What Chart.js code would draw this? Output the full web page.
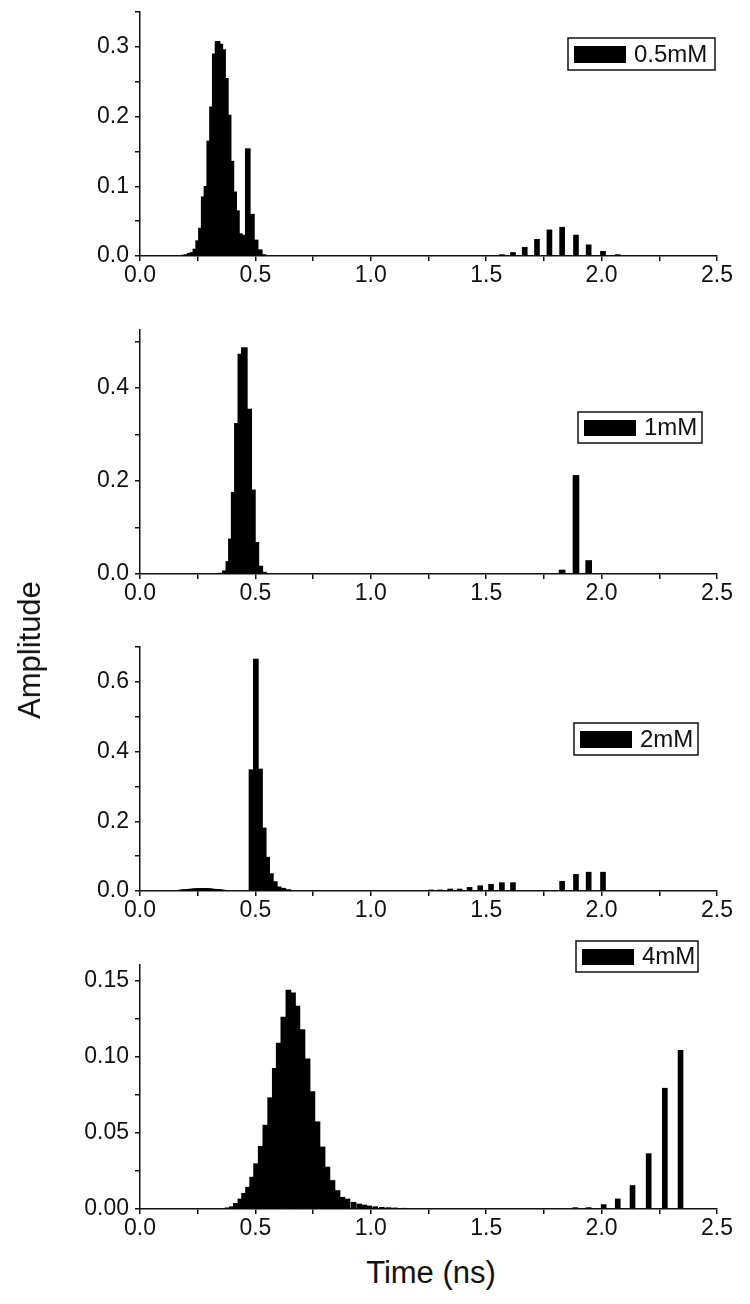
<!DOCTYPE html>
<html>
<head>
<meta charset="utf-8">
<script src="https://cdn.jsdelivr.net/npm/chart.js@4"></script>
<style>
  body { margin: 0; background: #fff; }
  #page { position: relative; width: 750px; height: 1304px; background: #fff; font-family: "Liberation Sans", Arial, sans-serif; color: #111; overflow: hidden; }
  canvas { position: absolute; left: 0; }
  .title { position: absolute; font-size: 31px; white-space: nowrap; }
</style>
</head>
<body>
<div id="page">
  <canvas id="c1" width="750" height="314" style="top:-18px"></canvas>
  <canvas id="c2" width="750" height="314" style="top:300px"></canvas>
  <canvas id="c3" width="750" height="314" style="top:617px"></canvas>
  <canvas id="c4" width="750" height="314" style="top:935px"></canvas>
  <div class="title" style="left:30px;top:650px;transform:translate(-50%,-50%) rotate(-90deg)">Amplitude</div>
  <div class="title" style="left:431px;top:1273px;transform:translate(-50%,-50%)">Time (ns)</div>
</div>
<script>
// lifetime bins (ns) and amplitudes
const t05 = [0.192, 0.204, 0.216, 0.228, 0.240, 0.252, 0.264, 0.276, 0.288, 0.300, 0.312, 0.324, 0.336, 0.348,
  0.360, 0.372, 0.384, 0.396, 0.408, 0.420, 0.432, 0.444, 0.456, 0.467, 0.485, 0.501, 0.519, 0.535,
  1.568, 1.616, 1.667, 1.720, 1.774, 1.829, 1.889, 1.944, 2.006, 2.070];
const a05 = [0.0015, 0.002, 0.004, 0.005, 0.010, 0.022, 0.040, 0.085, 0.100, 0.165, 0.214, 0.290, 0.308, 0.304,
  0.296, 0.255, 0.202, 0.136, 0.092, 0.065, 0.032, 0.030, 0.028, 0.154, 0.060, 0.023, 0.009, 0.002,
  0.002, 0.005, 0.0125, 0.024, 0.0375, 0.0413, 0.030, 0.016, 0.0067, 0.002];

const t1 = [0.355, 0.370, 0.385, 0.396, 0.408, 0.422, 0.437, 0.452, 0.471, 0.487, 0.502, 0.519, 0.535,
  1.829, 1.889, 1.944];
const a1 = [0.002, 0.007, 0.027, 0.0755, 0.176, 0.324, 0.473, 0.487, 0.355, 0.181, 0.068, 0.017, 0.004,
  0.0086, 0.212, 0.029];

const t2 = [0.178, 0.190, 0.202, 0.214, 0.226, 0.238, 0.250, 0.262, 0.274, 0.286, 0.298, 0.310, 0.322, 0.334, 0.346, 0.358,
  0.483, 0.502, 0.520, 0.536, 0.551, 0.567, 0.584, 0.601, 0.621, 0.643,
  1.261, 1.301, 1.344, 1.385, 1.428, 1.474, 1.521, 1.568, 1.616, 1.829, 1.889, 1.944, 2.006];
const a2 = [0.003, 0.004, 0.004, 0.005, 0.006, 0.0065, 0.007, 0.0075, 0.0075, 0.007, 0.007, 0.006, 0.005, 0.0045, 0.004, 0.003,
  0.348, 0.665, 0.350, 0.181, 0.097, 0.050, 0.027, 0.012, 0.008, 0.004,
  0.003, 0.003, 0.0057, 0.0057, 0.0105, 0.015, 0.019, 0.024, 0.024, 0.0276, 0.0476, 0.054, 0.054];

const t4 = [0.380, 0.398, 0.415, 0.435, 0.451, 0.468, 0.486, 0.503, 0.523, 0.543, 0.564, 0.584, 0.601, 0.621,
  0.643, 0.663, 0.682, 0.704, 0.726, 0.747, 0.769, 0.791, 0.812, 0.834, 0.856, 0.877, 0.899, 0.925,
  0.950, 0.972, 0.993, 1.019, 1.048, 1.077, 1.106, 1.142,
  1.886, 1.944, 2.009, 2.070, 2.134, 2.204, 2.274, 2.342];
const a4 = [0.0008, 0.0015, 0.0037, 0.0066, 0.0103, 0.0143, 0.0209, 0.0297, 0.0411, 0.055, 0.073, 0.0923, 0.1088, 0.1258,
  0.1436, 0.1418, 0.133, 0.1176, 0.0985, 0.077, 0.0572, 0.0407, 0.0275, 0.0187, 0.0121, 0.0077, 0.0066, 0.0044,
  0.0033, 0.0026, 0.002, 0.0015, 0.0011, 0.0009, 0.0007, 0.0005,
  0.0009, 0.0009, 0.0029, 0.0066, 0.0154, 0.0363, 0.0792, 0.104];

const xTicks = ['0.0', '0.5', '1.0', '1.5', '2.0', '2.5'];
const yTicks05 = ['0.0', '0.1', '0.2', '0.3'];
const yTicks1 = ['0.0', '0.2', '0.4'];
const yTicks2 = ['0.0', '0.2', '0.4', '0.6'];
const yTicks4 = ['0.00', '0.05', '0.10', '0.15'];

const FONT = '"Liberation Sans", Arial, sans-serif';

// legend box drawn inside the plot, Origin style
const boxLegend = {
  id: 'boxLegend',
  afterDraw(chart, args, opts) {
    const ctx = chart.ctx;
    const [x, y, w, h] = opts.box;
    ctx.save();
    ctx.fillStyle = '#fff';
    ctx.fillRect(x, y, w, h);
    ctx.strokeStyle = '#111';
    ctx.lineWidth = 1.5;
    ctx.strokeRect(x, y, w, h);
    ctx.fillStyle = '#000';
    ctx.fillRect(x + 6, y + 8, 52, h - 15);
    ctx.font = '24px ' + FONT;
    ctx.fillStyle = '#111';
    ctx.textBaseline = 'middle';
    ctx.fillText(chart.data.datasets[0].label, x + 66, y + h / 2 + 1);
    ctx.restore();
  }
};

// canvas 1 sits 18px above the page, so its boxes are shifted by 18
const panels = [
  { id: 'c1', label: '0.5mM', t: t05, a: a05, yMax: 0.35, yStep: 0.05, yLabels: yTicks05, digits: 1, top: 30, bar: 5, box: [568, 56, 147, 32] },
  { id: 'c2', label: '1mM', t: t1, a: a1, yMax: 0.525, yStep: 0.1, yLabels: yTicks1, digits: 1, top: 30, bar: 6, box: [578, 112, 124, 31] },
  { id: 'c3', label: '2mM', t: t2, a: a2, yMax: 0.7, yStep: 0.1, yLabels: yTicks2, digits: 1, top: 30, bar: 5, box: [574, 106, 124, 32] },
  { id: 'c4', label: '4mM', t: t4, a: a4, yMax: 0.16, yStep: 0.025, yLabels: yTicks4, digits: 2, top: 30, bar: 5, box: [576, 6, 122, 31] }
];

panels.forEach(p => {
  const ctx = document.getElementById(p.id).getContext('2d');
  new Chart(ctx, {
    type: 'bar',
    data: {
      datasets: [{
        label: p.label,
        data: p.t.map((x, i) => ({ x: x, y: p.a[i] })),
        backgroundColor: '#000',
        borderWidth: 0,
        barThickness: p.bar
      }]
    },
    options: {
      responsive: false,
      animation: false,
      layout: { padding: { top: p.top, right: 33, left: 0, bottom: 0 } },
      plugins: {
        legend: { display: false },
        tooltip: { enabled: false },
        boxLegend: { box: p.box }
      },
      scales: {
        x: {
          type: 'linear',
          min: 0,
          max: 2.5,
          offset: false,
          afterFit: s => { s.height = 40; },
          grid: { offset: false, drawOnChartArea: false, drawTicks: true, tickLength: 5, color: '#111', lineWidth: 1.5 },
          border: { display: true, color: '#111', width: 1.5 },
          ticks: {
            stepSize: 0.25,
            autoSkip: false,
            maxRotation: 0,
            padding: 1,
            color: '#111',
            font: { family: FONT, size: 23 },
            callback: v => { const s = v.toFixed(1); return xTicks.includes(s) && Math.abs(v * 2 - Math.round(v * 2)) < 1e-6 ? s : ''; }
          }
        },
        y: {
          min: 0,
          max: p.yMax,
          afterFit: s => { s.width = 140; },
          grid: { drawOnChartArea: false, drawTicks: true, tickLength: 5, color: '#111', lineWidth: 1.5 },
          border: { display: true, color: '#111', width: 1.5 },
          ticks: {
            stepSize: p.yStep,
            includeBounds: false,
            autoSkip: false,
            padding: 6,
            color: '#111',
            font: { family: FONT, size: 23 },
            callback: v => {
              const s = v.toFixed(p.digits);
              const major = p.yStep * 2;
              return p.yLabels.includes(s) && Math.abs(v / major - Math.round(v / major)) < 1e-6 ? s : '';
            }
          }
        }
      }
    },
    plugins: [boxLegend]
  });
});
</script>
</body>
</html>
